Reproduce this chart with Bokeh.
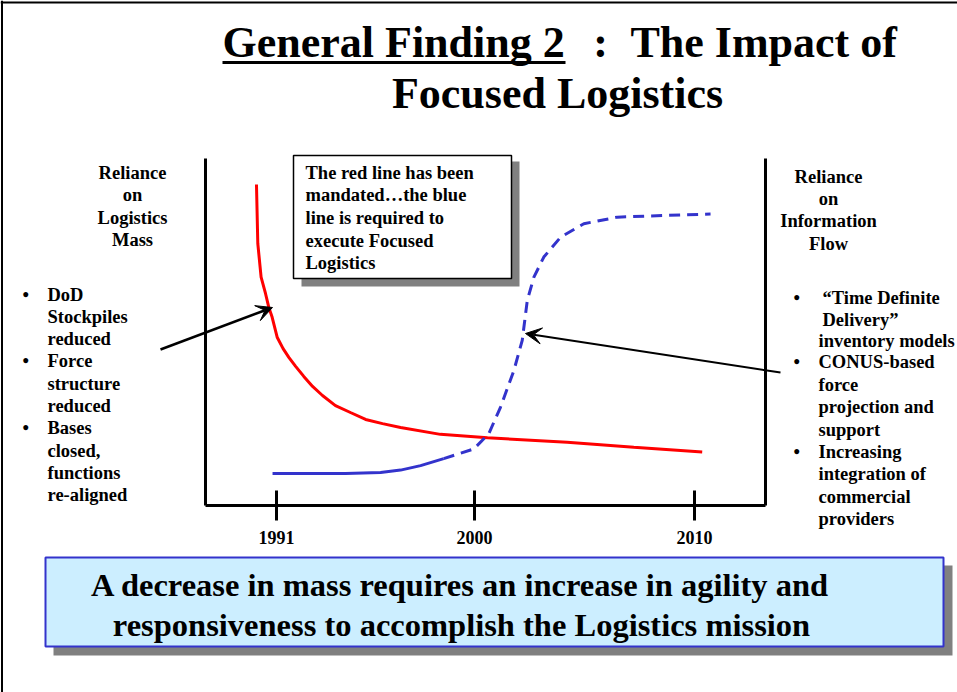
from bokeh.plotting import figure
from bokeh.models import Range1d, LinearAxis, FixedTicker, Label, Arrow, VeeHead, BoxAnnotation, Span
from bokeh.embed import file_html
from bokeh.resources import INLINE

# ---------------- data ----------------
tick_years = [1991, 2000, 2010]
tick_labels = {1991: "1991", 2000: "2000", 2010: "2010"}

red_years = [1990.09, 1990.15, 1990.30, 1990.50, 1990.65, 1990.80, 1991.03, 1991.30, 1991.56,
             1991.87, 1992.24, 1992.64, 1993.09, 1993.68, 1994.36, 1995.05, 1995.82, 1996.64,
             1998.45, 2000.59, 2004.21, 2007.24, 2010.35]
red_values = [92.5, 75.5, 65.8, 61.1, 57.1, 54.3, 48.5, 45.2, 42.7,
              40.1, 37.2, 34.3, 31.7, 28.8, 26.8, 24.8, 23.6, 22.5,
              20.5, 19.5, 18.2, 16.8, 15.4]

blue_solid_years = [1990.82, 1994.14, 1995.73, 1996.64, 1997.55, 1998.60]
blue_solid_values = [9.2, 9.2, 9.5, 10.2, 11.5, 13.5]

blue_dash_years = [1998.60, 1999.97, 2000.65, 2001.18, 2001.79, 2002.17, 2002.40,
                   2002.70, 2003.15, 2003.91, 2004.97, 2006.49, 2008.76, 2010.73]
blue_dash_values = [13.5, 16.3, 20.7, 28.3, 38.9, 47.6, 59.1,
                    65.8, 71.6, 77.3, 81.2, 83.1, 83.6, 84.0]

title_parts = ["General Finding 2", ":", "The Impact of"]
title_line2 = "Focused Logistics"
left_head = ["Reliance", "on", "Logistics", "Mass"]
right_head = ["Reliance", "on", "Information", "Flow"]
left_bullets = [["DoD", "Stockpiles", "reduced"],
                ["Force", "structure", "reduced"],
                ["Bases", "closed,", "functions", "re-aligned"]]
right_bullets = [["\u201cTime Definite", "Delivery\u201d", "inventory models"],
                 ["CONUS-based", "force", "projection and", "support"],
                 ["Increasing", "integration of", "commercial", "providers"]]
note_lines = ["The red line has been", "mandated\u2026the blue", "line is required to",
              "execute Focused", "Logistics"]
bottom_lines = ["A decrease in mass requires an increase in agility and",
                "responsiveness to accomplish the Logistics mission"]

# ---------------- layout helpers (page pixel -> data) ----------------
def X(px):
    return 1991 + (px - 276) / 22.0

def Y(py):
    return (505 - py) / 3.47

FONT = "Liberation Serif"

p = figure(width=957, height=692, x_range=Range1d(X(0), X(957)), y_range=Range1d(Y(692), Y(0)),
           output_backend="svg", toolbar_location=None,
           x_axis_location=None, y_axis_location=None, min_border=0)
p.grid.visible = False
p.outline_line_color = None
p.background_fill_color = "white"
p.border_fill_color = "white"

xaxis = LinearAxis(ticker=FixedTicker(ticks=tick_years), major_label_overrides=tick_labels,
                   fixed_location=Y(505), bounds=(X(205), X(765)),
                   axis_line_width=3, axis_line_color="black",
                   major_tick_in=15, major_tick_out=15, major_tick_line_width=3,
                   major_tick_line_color="black", minor_tick_line_color=None,
                   major_label_text_font=FONT, major_label_text_font_style="bold",
                   major_label_text_font_size="18px", major_label_text_color="black",
                   major_label_standoff=10)
p.add_layout(xaxis, "below")
for side, loc in (("left", 205), ("right", 765)):
    ax = LinearAxis(ticker=FixedTicker(ticks=[]), fixed_location=X(loc), bounds=(Y(505), Y(158)),
                    axis_line_width=3, axis_line_color="black",
                    major_tick_line_color=None, minor_tick_line_color=None,
                    major_label_text_font_size="0px")
    p.add_layout(ax, side)

# slide frame
p.add_layout(Span(location=X(1.5), dimension="height", line_color="black", line_width=2))
p.add_layout(Span(location=Y(2), dimension="width", line_color="black", line_width=2))

# curves
p.line(red_years, red_values, line_color="#FF0000", line_width=3)
p.line(blue_solid_years, blue_solid_values, line_color="#3333CC", line_width=3)
p.line(blue_dash_years, blue_dash_values, line_color="#3333CC", line_width=3, line_dash="11 7")

def box(l, t, r, b, fill, line=None, lw=0):
    p.add_layout(BoxAnnotation(left=X(l), right=X(r), top=Y(t), bottom=Y(b),
                               fill_color=fill, fill_alpha=1.0,
                               line_color=line, line_alpha=1.0 if line else 0, line_width=lw))

def txt(px, py, s, size, align="left", baseline="middle"):
    p.add_layout(Label(x=X(px), y=Y(py), text=s, text_font=FONT, text_font_style="bold",
                       text_font_size=f"{size}px", text_align=align, text_baseline=baseline,
                       text_color="black"))

# note box
box(301, 161, 519, 286, "#808080")
box(293, 155, 511, 278, "white", "black", 1.5)
for i, s in enumerate(note_lines):
    txt(305, 172 + i * 22.7, s, 18.5)

# bottom box
box(53, 565, 952, 655, "#808080")
box(45, 557, 943, 646, "#CCEEFF", "#3333CC", 2)
txt(460, 584, bottom_lines[0], 32.5, "center")
txt(461, 624, bottom_lines[1], 32.5, "center")

# title
txt(222, 42, title_parts[0], 44, "left")
txt(600, 42, title_parts[1], 44, "center")
txt(630, 42, title_parts[2], 44, "left")
txt(557, 93, title_line2, 44, "center")
p.add_layout(Arrow(x_start=X(222), y_start=Y(62), x_end=X(565), y_end=Y(62), end=None,
                   line_width=3, line_color="black"))

# side headings
for i, s in enumerate(left_head):
    txt(132, 172 + i * 22.6, s, 18.5, "center")
for i, s in enumerate(right_head):
    txt(828, 176 + i * 22.4, s, 18.5, "center")

# left bullets
y = 294
for group in left_bullets:
    txt(22, y, "\u2022", 18.5)
    for s in group:
        txt(47, y, s, 18.5)
        y += 22.3

# right bullets
ys = [297, 319, 340, 361, 384, 406, 429, 451, 473, 496, 518]
k = 0
for gi, group in enumerate(right_bullets):
    txt(793, ys[k], "\u2022", 18.5)
    for j, s in enumerate(group):
        xoff = 822 if (gi == 0 and j < 2) else 818
        txt(xoff, ys[k], s, 18.5)
        k += 1

# arrows
p.add_layout(Arrow(x_start=X(160), y_start=Y(349), x_end=X(272), y_end=Y(307),
                   line_width=2.5, line_color="black",
                   end=VeeHead(size=16, fill_color="black", line_color="black")))
p.add_layout(Arrow(x_start=X(780), y_start=Y(372), x_end=X(525), y_end=Y(333),
                   line_width=2, line_color="black",
                   end=VeeHead(size=16, fill_color="black", line_color="black")))

open("out.html", "w").write(file_html(p, INLINE))
